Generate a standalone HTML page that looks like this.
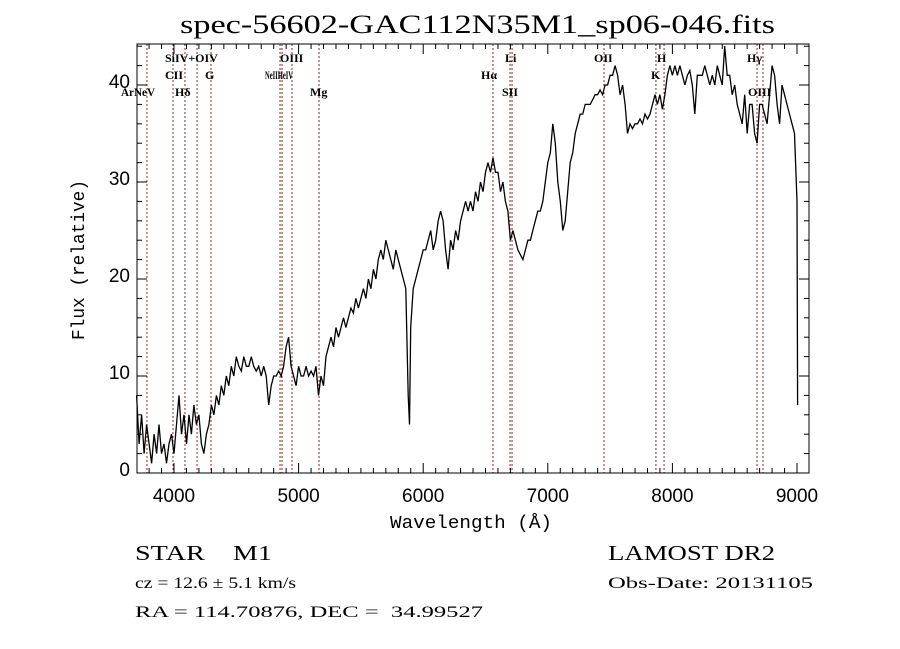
<!DOCTYPE html>
<html><head><meta charset="utf-8"><style>
html,body{margin:0;padding:0;background:#fff;}
svg{display:block;}
text{white-space:pre;}
</style></head><body>
<svg id="chart" width="900" height="649" viewBox="0 0 900 649" xmlns="http://www.w3.org/2000/svg" xml:space="preserve">
<rect width="900" height="649" fill="#fff"/>
<text x="180" y="33" font-family="Liberation Serif, serif" font-size="26" textLength="595" lengthAdjust="spacingAndGlyphs">spec-56602-GAC112N35M1_sp06-046.fits</text>
<g id="lines"></g>
<g id="labels" font-family="Liberation Serif, serif" font-size="12" font-weight="bold"></g>
<path id="spec" fill="none" stroke="#000" stroke-width="1.3"/>
<g id="axes"></g>
<text x="390" y="528" font-family="Liberation Mono, monospace" font-size="18" textLength="162" lengthAdjust="spacingAndGlyphs">Wavelength (Å)</text>
<text transform="translate(84,340) rotate(-90)" font-family="Liberation Mono, monospace" font-size="18" textLength="160" lengthAdjust="spacingAndGlyphs">Flux (relative)</text>
<text x="135" y="560" font-family="Liberation Serif, serif" font-size="21" textLength="137" lengthAdjust="spacingAndGlyphs">STAR    M1</text>
<text x="135" y="588" font-family="Liberation Serif, serif" font-size="16" textLength="161" lengthAdjust="spacingAndGlyphs">cz = 12.6 ± 5.1 km/s</text>
<text x="135" y="617" font-family="Liberation Serif, serif" font-size="16" textLength="348" lengthAdjust="spacingAndGlyphs">RA = 114.70876, DEC =  34.99527</text>
<text x="608" y="560" font-family="Liberation Serif, serif" font-size="21" textLength="167" lengthAdjust="spacingAndGlyphs">LAMOST DR2</text>
<text x="608" y="588" font-family="Liberation Serif, serif" font-size="16" textLength="205" lengthAdjust="spacingAndGlyphs">Obs-Date: 20131105</text>
</svg>
<script>
const wavelengths = [3700,3720,3740,3760,3780,3800,3820,3840,3860,3880,3900,3920,3940,3960,3980,4000,4020,4040,4060,4080,4100,4120,4140,4160,4180,4200,4220,4240,4260,4280,4300,4320,4340,4360,4380,4400,4420,4440,4460,4480,4500,4520,4540,4560,4580,4600,4620,4640,4660,4680,4700,4720,4740,4760,4780,4800,4820,4840,4860,4880,4900,4920,4940,4960,4980,5000,5020,5040,5060,5080,5100,5120,5140,5160,5180,5200,5220,5240,5260,5280,5300,5320,5340,5360,5380,5400,5420,5440,5460,5480,5500,5520,5540,5560,5580,5600,5620,5640,5660,5680,5700,5720,5740,5760,5780,5800,5820,5840,5860,5880,5890,5900,5920,5940,5960,5980,6000,6020,6040,6060,6080,6100,6120,6140,6160,6180,6200,6220,6240,6260,6280,6300,6320,6340,6360,6380,6400,6420,6440,6460,6480,6500,6520,6540,6560,6580,6600,6620,6640,6660,6680,6700,6720,6740,6760,6780,6800,6820,6840,6860,6880,6900,6920,6940,6960,6980,7000,7020,7040,7060,7080,7100,7120,7140,7160,7180,7200,7220,7240,7260,7280,7300,7320,7340,7360,7380,7400,7420,7440,7460,7480,7500,7520,7540,7560,7580,7600,7620,7640,7660,7680,7700,7720,7740,7760,7780,7800,7820,7840,7860,7880,7900,7920,7940,7960,7980,8000,8020,8040,8060,8080,8100,8120,8140,8160,8180,8200,8220,8240,8260,8280,8300,8320,8340,8360,8380,8400,8420,8440,8460,8480,8500,8520,8540,8560,8580,8600,8620,8640,8660,8680,8700,8720,8740,8760,8780,8800,8820,8840,8860,8880,8900,8920,8940,8960,8980,9000,9005];
const flux = [8,3,6,2,5,3,1,4,2,5,2,3,1,3,4,2,5,8,4,6,3,6,4,7,5,6,3,2,4,5,7,6,8,7,9,8,10,9,11,10,12,11,10.5,12,11,11,12,11,10.5,11,10,11,10,7,9,10,10,10.5,10,11,13,14,11,10,9,11,10,10,11,10,10.5,10,11,8,10,9,12,13,14,13,15,14,15,16,15,16,17,16.5,18,17,18,19,18,20,19,21,20,22,23,22,24,23,22,21,23,22,21,20,19,8,5,15,19,20,21,22,23,23,24,25,23,24,26,27,26,23,21,24,23,25,24,26,27,28,27,28,27,29,28,30,29,31,32,31,32.5,31,31,29,30,28,27,24,25,24,23,22.5,22,23,24,24,25,26,27,27,28,30,32,33,36,34,30,28,25,26,29,32,33,35,36,37,37,38,38,38,38.5,39,39,39.5,39,40,40,41,41,42,41,39,40,38,35,36,35.5,36,36,36.5,36,37,36.5,37,38,39,38,39,37.5,39,41,42,41,42,41,42,41,40,41,41.5,40,37,41,41,41,42,41,40,41,40,42,41,40,44,41,41,39,40,38,37,36,39,35,38,38,35,34,38,38,37,36,39,42,41,38,36,40,39,38,37,36,35,28,7];
const lineWaves = [3783,3992,4088,4185,4297,4851,4867,4947,5164,6560,6697,6713,7451,7868,7933,8679,8727];
const xTicks = [4000,5000,6000,7000,8000,9000];
const yTicks = [0,10,20,30,40];

const L=137,R=809,T=44,B=473;
const X = w => 174 + (w-4000)*0.1246;
const Y = f => 473 - f*9.7;
const NS="http://www.w3.org/2000/svg";
function mk(tag,attrs,parent){const e=document.createElementNS(NS,tag);for(const k in attrs)e.setAttribute(k,attrs[k]);parent.appendChild(e);return e;}

let d="";
wavelengths.forEach((w,i)=>{d+=(i?"L":"M")+X(w).toFixed(1)+" "+Y(Math.max(0,flux[i])).toFixed(1);});
document.getElementById('spec').setAttribute('d',d);

const lg=document.getElementById('lines');
lineWaves.forEach(w=>{
  const l=mk('line',{x1:X(w),x2:X(w),y1:T,y2:B,stroke:'#8b2a2a','stroke-width':1,'stroke-dasharray':'2,2'},lg);
  
  
});

const lbls=[["ArNeV",121,96],["SiIV+OIV",165,62],["CII",165,79],["Hδ",175,96],["G",205,79],["OIII",280,62],["NeIIHeIV",265,79],["Mg",310,96],["Hα",481,79],["Li",505,62],["SII",502,96],["OII",594,62],["K",651,79],["H",657,62],["Hγ",747,62],["OIII",748,96]];
const lb=document.getElementById('labels');
lbls.forEach(a=>{
  const t=mk('text',{x:a[1],y:a[2]},lb);t.textContent=a[0];
  if(a[0]==="NeIIHeIV"){t.setAttribute('textLength','28');t.setAttribute('lengthAdjust','spacingAndGlyphs');}
  if(a[0]==="ArNeV"){t.setAttribute('textLength','34');t.setAttribute('lengthAdjust','spacingAndGlyphs');}
  
  
});

const ax=document.getElementById('axes');
const fr=mk('rect',{x:L,y:T,width:R-L,height:B-T,fill:'none',stroke:'#000','stroke-width':1},ax);


for(let w=3800;w<=9000;w+=100){
  const major=w%1000===0, len=major?10:5;
  mk('line',{x1:X(w),x2:X(w),y1:B,y2:B-len,stroke:'#000'},ax);
  mk('line',{x1:X(w),x2:X(w),y1:T,y2:T+len,stroke:'#000'},ax);
}
xTicks.forEach(w=>{
  const t=mk('text',{x:X(w),y:B+29,'text-anchor':'middle','font-family':'Liberation Sans, sans-serif','font-size':19},ax);
  t.textContent=w;
  
  
});
for(let f=0;f<=44;f+=2){
  const major=f%10===0,len=major?10:5;
  mk('line',{x1:L,x2:L+len,y1:Y(f),y2:Y(f),stroke:'#000'},ax);
  mk('line',{x1:R,x2:R-len,y1:Y(f),y2:Y(f),stroke:'#000'},ax);
}
yTicks.forEach(f=>{
  const t=mk('text',{x:L-7,y:Y(f)+3,'text-anchor':'end','font-family':'Liberation Sans, sans-serif','font-size':19},ax);
  t.textContent=f;
  
  
});
</script>
</body></html>
